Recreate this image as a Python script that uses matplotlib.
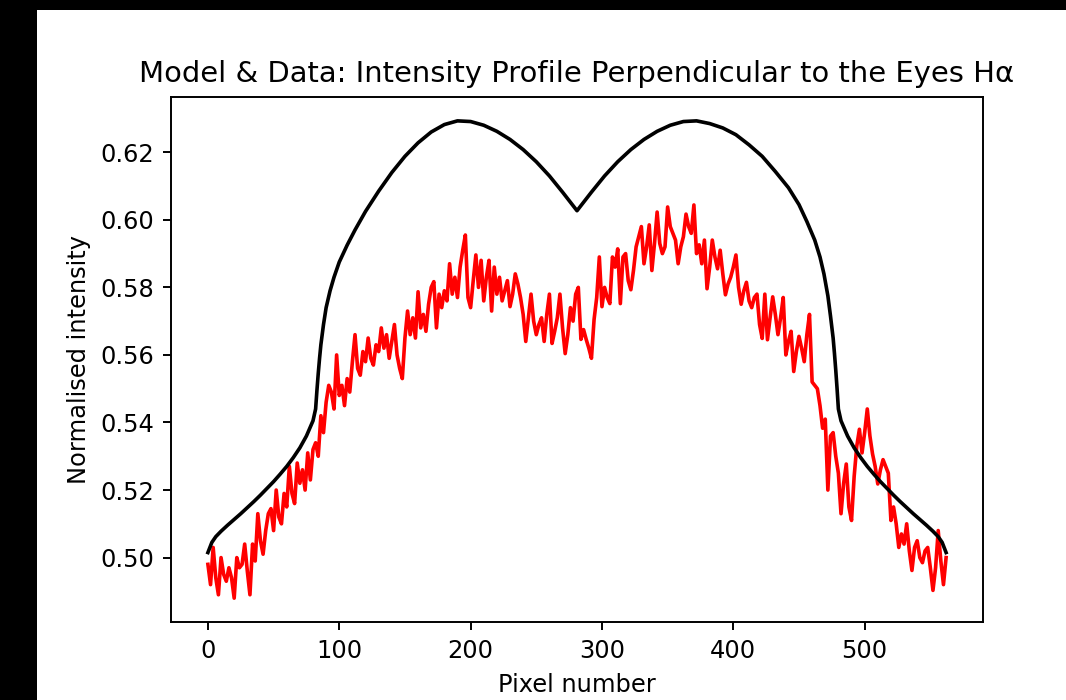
import numpy as np
import matplotlib
matplotlib.use("Agg")
import matplotlib.pyplot as plt
from matplotlib.patches import Rectangle

# model profile (black curve)
model_x = [0, 3, 6, 10, 15, 20, 25, 30, 35, 40, 45, 50, 55, 60, 65, 70, 75, 80,
           82, 83, 84, 85, 86, 88, 90, 93, 96, 100, 106, 112, 120, 130, 140,
           150, 160, 170, 180, 190, 200, 210, 220, 230, 240, 250, 260, 270, 281,
           292, 302, 312, 322, 332, 342, 352, 362, 372, 382, 392, 402, 412,
           422, 432, 442, 450, 456, 462, 466, 469, 472, 474, 476, 477, 478,
           479, 480, 482, 487, 492, 497, 502, 507, 512, 517, 522, 527, 532,
           537, 542, 547, 552, 556, 559, 562]
model_y = [0.5015, 0.5045, 0.5062, 0.5078, 0.5096, 0.5113, 0.5130, 0.5148,
           0.5166, 0.5185, 0.5205, 0.5225, 0.5247, 0.5270, 0.5296, 0.5325,
           0.5360, 0.5405,
           0.5440, 0.5495, 0.5545, 0.5590, 0.5630, 0.5690, 0.5740, 0.5790,
           0.5830, 0.5875, 0.5925, 0.5970, 0.6025, 0.6085, 0.6140, 0.6188,
           0.6228, 0.6260, 0.6282, 0.6293, 0.6291, 0.6280, 0.6262, 0.6238,
           0.6208, 0.6172, 0.6130, 0.6082, 0.6027,
           0.6082, 0.6130, 0.6172, 0.6208, 0.6238, 0.6262, 0.6280, 0.6291,
           0.6293, 0.6285, 0.6272, 0.6252, 0.6222, 0.6188, 0.6143, 0.6095,
           0.6045, 0.5995, 0.5940, 0.5890, 0.5840, 0.5775, 0.5715, 0.5650,
           0.5605, 0.5555, 0.5500, 0.5440,
           0.5405, 0.5360, 0.5325, 0.5296, 0.5270, 0.5247, 0.5225, 0.5205,
           0.5185, 0.5166, 0.5148, 0.5130, 0.5113, 0.5096, 0.5078, 0.5062,
           0.5045, 0.5015]

# measured profile (red curve), sampled every 2 pixels from 0 to 562
data_y = [
    0.498, 0.492, 0.503, 0.494, 0.489, 0.500, 0.495, 0.493, 0.497, 0.494,
    0.488, 0.500, 0.497, 0.498, 0.504, 0.496, 0.489, 0.504, 0.499, 0.513,
    0.505,
    0.501, 0.508, 0.513, 0.5145, 0.508, 0.520, 0.512, 0.510, 0.519, 0.515,
    0.527, 0.519, 0.516, 0.528, 0.522, 0.526, 0.520, 0.531, 0.523, 0.532,
    0.534, 0.530, 0.542, 0.537, 0.546, 0.551, 0.549, 0.544, 0.560, 0.548,
    0.551, 0.545, 0.553, 0.549, 0.558, 0.566, 0.556, 0.554, 0.561, 0.558,
    0.565, 0.559, 0.557, 0.563, 0.561, 0.568, 0.562, 0.566, 0.559, 0.564,
    0.569, 0.560, 0.556, 0.553, 0.565,
    0.573, 0.566, 0.571, 0.565, 0.5787, 0.568, 0.572, 0.567, 0.575, 0.580,
    0.5817, 0.568, 0.578, 0.574, 0.579, 0.576, 0.587, 0.578, 0.583, 0.577,
    0.586, 0.591, 0.5955, 0.577, 0.574, 0.582, 0.5896, 0.580, 0.588, 0.576,
    0.583, 0.588, 0.573, 0.586, 0.578, 0.583, 0.576, 0.579, 0.582, 0.5743,
    0.578, 0.584, 0.581, 0.577, 0.572, 0.564, 0.571, 0.578, 0.570, 0.566,
    0.569, 0.571, 0.564, 0.572, 0.578, 0.5634, 0.567, 0.571, 0.578, 0.568,
    0.5604, 0.566, 0.574, 0.570, 0.578, 0.580,
    0.5646, 0.5675, 0.5646, 0.562, 0.559, 0.5705, 0.577, 0.589, 0.5743, 0.580,
    0.577, 0.5752, 0.589, 0.586, 0.5914, 0.5752, 0.589, 0.590, 0.582, 0.5793,
    0.585, 0.592, 0.595, 0.598, 0.587, 0.592, 0.5985, 0.585, 0.593, 0.6023,
    0.593, 0.590, 0.592, 0.6038, 0.598, 0.596, 0.594, 0.587, 0.592, 0.595,
    0.6017, 0.598, 0.596, 0.6044, 0.590, 0.5926, 0.587, 0.594, 0.5796,
    0.586, 0.594, 0.589, 0.5855, 0.591, 0.584, 0.5778, 0.581, 0.583, 0.586,
    0.5896, 0.580, 0.575, 0.579, 0.5815, 0.576, 0.574, 0.577, 0.578, 0.569,
    0.5649, 0.578, 0.5645, 0.571, 0.5772, 0.572, 0.566, 0.571, 0.577, 0.560,
    0.564, 0.567, 0.5551, 0.561, 0.5655, 0.562, 0.558, 0.566, 0.572, 0.552,
    0.551, 0.550, 0.545, 0.5383, 0.541, 0.520, 0.536, 0.537,
    0.530, 0.525, 0.513, 0.522, 0.5277, 0.515, 0.511, 0.524, 0.533, 0.538,
    0.531, 0.537, 0.544, 0.536, 0.5307, 0.527, 0.5218, 0.526, 0.529, 0.527,
    0.525, 0.511, 0.515, 0.510, 0.503, 0.507, 0.504, 0.510, 0.502, 0.4962,
    0.503, 0.505, 0.500, 0.4985, 0.502, 0.503, 0.497, 0.4903, 0.497, 0.508,
    0.499, 0.492, 0.500,
]
data_x = np.arange(0, 2 * len(data_y), 2)

# the screenshot is a notebook figure blown up ~1.74x
k = 1.742

fig = plt.figure(figsize=(10.66, 7.0), dpi=100, facecolor="black")
# white canvas inside the black screenshot border
fig.patches.append(Rectangle((37 / 1066, 0), 1 - 37 / 1066, 690 / 700,
                             transform=fig.transFigure, facecolor="white",
                             edgecolor="none", zorder=-10))
ax = fig.add_axes([171 / 1066, 78 / 700, 812 / 1066, 525 / 700])
ax.set_zorder(5)

ax.plot(data_x, data_y, color="red", lw=1.5 * k)
ax.plot(model_x, model_y, color="black", lw=1.5 * k)

ax.set_yticks([0.50, 0.52, 0.54, 0.56, 0.58, 0.60, 0.62])
ax.set_xticks([0, 100, 200, 300, 400, 500])
ax.tick_params(labelsize=10 * k, length=3.5 * k, width=0.8 * k, pad=3.5 * k)
for s in ax.spines.values():
    s.set_linewidth(0.8 * k)

ax.set_title("Model & Data: Intensity Profile Perpendicular to the Eyes H\u03b1",
             fontsize=12 * k, pad=6 * k)
ax.set_xlabel("Pixel number", fontsize=10 * k, labelpad=4 * k)
ax.set_ylabel("Normalised intensity", fontsize=10 * k, labelpad=4 * k)

fig.savefig("out.png", dpi=100, facecolor=fig.get_facecolor())
